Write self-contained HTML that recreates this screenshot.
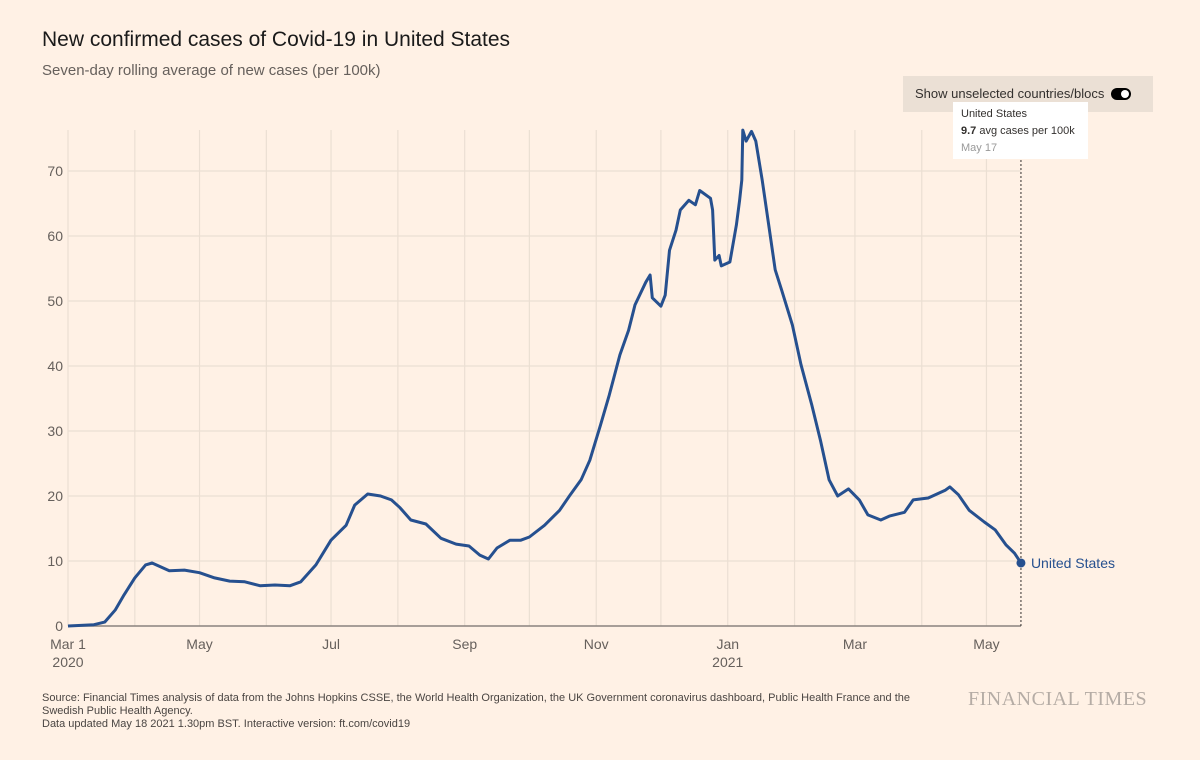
<!DOCTYPE html>
<html><head><meta charset="utf-8"><style>
body{margin:0;background:#fff1e5;font-family:"Liberation Sans",sans-serif;}
#wrap{position:relative;width:1200px;height:760px;overflow:hidden;background:#fff1e5;}
.t{position:absolute;white-space:nowrap;}
</style></head><body>
<div id="wrap">
<div class="t" style="left:42px;top:28px;font-size:21px;color:#1a1a1a;">New confirmed cases of Covid-19 in United States</div>
<div class="t" style="left:42px;top:62px;font-size:15px;color:#66605c;">Seven-day rolling average of new cases (per 100k)</div>
<div class="t" style="left:903px;top:76px;width:250px;height:36px;background:#ebe0d5;"><span style="position:absolute;left:12px;top:10px;font-size:13px;color:#33302e;">Show unselected countries/blocs</span><span style="position:absolute;left:208px;top:12px;width:20px;height:12px;border-radius:6px;background:#000;"><span style="position:absolute;right:2px;top:2px;width:8px;height:8px;border-radius:4px;background:#fff;"></span></span></div>
<svg id="chart" width="1200" height="760" style="position:absolute;left:0;top:0;"></svg>
<div class="t" style="left:953px;top:102px;width:135px;height:57px;background:#fff;font-size:11px;color:#33302e;"><div style="position:absolute;left:8px;top:6px;">United States</div><div style="position:absolute;left:8px;top:23px;"><b>9.7</b> avg cases per 100k</div><div style="position:absolute;left:8px;top:40px;color:#999;">May 17</div></div>
<div class="t" style="left:42px;top:692px;font-size:11px;color:#4a4542;line-height:13px;">Source: Financial Times analysis of data from the Johns Hopkins CSSE, the World Health Organization, the UK Government coronavirus dashboard, Public Health France and the<br>Swedish Public Health Agency.<br>Data updated May 18 2021 1.30pm BST. Interactive version: ft.com/covid19</div>
<div class="t" style="left:968px;top:688px;font-family:'Liberation Serif',serif;font-size:20px;color:#b5aca5;letter-spacing:0.5px;">FINANCIAL TIMES</div>
</div>
<script>
const days=[0,12,17,22,26,31,36,39,43,47,54,61,68,75,82,89,96,103,108,115,122,129,133,139,145,150,154,159,166,173,180,186,191,195,199,205,210,214,221,228,233,238,242,247,251,256,260,263,268,270,271,275,277,279,282,284,288,291,293,298,299,300,302,303,307,310,311.5,312.5,313,314.5,317,319,322,325,328,331,336,340,345,349,353,357,362,367,371,377,381,388,392,399,407,409,413,418,425,430,435,439,442];
const values=[0,0.2,0.6,2.5,4.8,7.4,9.4,9.7,9.1,8.5,8.6,8.2,7.4,6.9,6.8,6.2,6.3,6.2,6.8,9.4,13.2,15.5,18.6,20.3,20.0,19.4,18.2,16.3,15.7,13.5,12.6,12.3,10.9,10.3,12.0,13.2,13.2,13.7,15.5,17.8,20.2,22.5,25.5,30.9,35.5,41.7,45.5,49.4,52.9,54,50.5,49.2,50.9,57.8,60.9,64,65.5,64.8,67,65.8,64,56.3,57,55.4,56,61.7,65.5,68.6,76.3,74.6,76.1,74.6,68.6,61.7,54.8,51.7,46.3,40.2,34,28.6,22.5,20,21.1,19.4,17.1,16.3,16.9,17.5,19.4,19.7,20.9,21.4,20.2,17.8,16,14.8,12.5,11.2,9.7];
const yTicks=[0,10,20,30,40,50,60,70];
const monthDays=[0,31,61,92,122,153,184,214,245,275,306,337,365,396,426];
const xLabels=[["Mar 1","2020",0],["May","",61],["Jul","",122],["Sep","",184],["Nov","",245],["Jan","2021",306],["Mar","",365],["May","",426]];
const X=d=>68+d*2.156, Y=v=>626-v*6.5;
const svg=document.getElementById('chart'),NS='http://www.w3.org/2000/svg';
function mk(t,a){const e=document.createElementNS(NS,t);for(const k in a)e.setAttribute(k,a[k]);svg.appendChild(e);return e;}
monthDays.forEach(d=>{const l=mk('line',{x1:X(d),x2:X(d),y1:130,y2:626,stroke:'#ebdfd3','stroke-width':1.2});

});
yTicks.forEach(v=>{const l=mk('line',{x1:68,x2:1021,y1:Y(v),y2:Y(v),stroke:v?'#ebdfd3':'#8a837e','stroke-width':v?1.2:1.5});


const t=mk('text',{x:63,y:Y(v)+5,'text-anchor':'end','font-size':14,fill:'#66605c','font-family':'Liberation Sans'});t.textContent=v;

});
xLabels.forEach(([a,b,d])=>{const t=mk('text',{x:X(d),y:649,'text-anchor':'middle','font-size':14,fill:'#66605c','font-family':'Liberation Sans'});t.textContent=a;


if(b){const u=mk('text',{x:X(d),y:667,'text-anchor':'middle','font-size':14,fill:'#66605c','font-family':'Liberation Sans'});u.textContent=b;

}});
const last=Math.min(days.length,values.length)-1;
const vl=mk('line',{x1:X(days[last]),x2:X(days[last]),y1:160,y2:626,stroke:'#33302e','stroke-dasharray':'2,2','stroke-width':1});


const pts=[];for(let i=0;i<=last;i++)pts.push((i?'L':'M')+X(days[i]).toFixed(1)+','+Y(values[i]).toFixed(1));
const p=mk('path',{d:pts.join(''),fill:'none',stroke:'#26508f','stroke-width':3,'stroke-linejoin':'round'});


const c=mk('circle',{cx:X(days[last]),cy:Y(values[last]),r:4.5,fill:'#26508f'});


const lt=mk('text',{x:X(days[last])+10,y:Y(values[last])+5,'font-size':14,fill:'#26508f','font-family':'Liberation Sans'});lt.textContent='United States';


</script>
</body></html>
